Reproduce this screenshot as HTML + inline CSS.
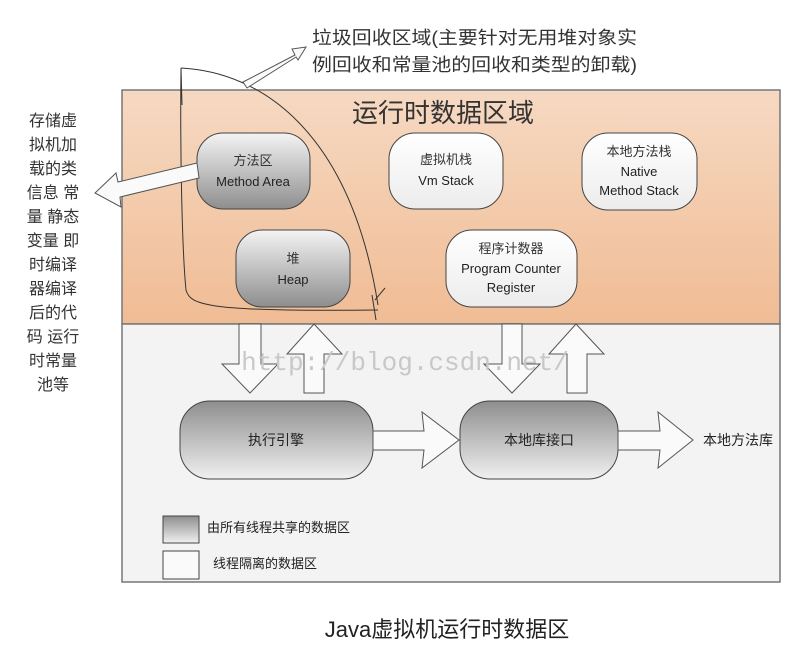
<!DOCTYPE html>
<html><head><meta charset="utf-8"><style>
html,body{margin:0;padding:0;background:#fff;}
svg text{font-family:"Liberation Sans","Noto Sans CJK SC",sans-serif;}
</style></head><body>
<svg width="804" height="665" viewBox="0 0 804 665" xmlns="http://www.w3.org/2000/svg">
<defs>
<linearGradient id="or" x1="0" y1="0" x2="0" y2="1"><stop offset="0" stop-color="#f6d9c2"/><stop offset="1" stop-color="#f0bc94"/></linearGradient>
<linearGradient id="gr" x1="0" y1="0" x2="0" y2="1"><stop offset="0" stop-color="#f4f4f4"/><stop offset="1" stop-color="#8e8e8e"/></linearGradient>
<linearGradient id="gr2" x1="0" y1="0" x2="0" y2="1"><stop offset="0" stop-color="#8e8e8e"/><stop offset="1" stop-color="#f0f0f0"/></linearGradient>
<linearGradient id="wh" x1="0" y1="0" x2="0" y2="1"><stop offset="0" stop-color="#ffffff"/><stop offset="1" stop-color="#ececec"/></linearGradient>
</defs>
<rect x="122" y="90" width="658" height="234" fill="url(#or)" stroke="#777" stroke-width="1.5"/>
<rect x="122" y="324" width="658" height="258" fill="#f3f3f3" stroke="#777" stroke-width="1.5"/>
<text x="443" y="122" font-size="26" text-anchor="middle" fill="#333">运行时数据区域</text>

<rect x="197" y="133" width="113" height="76" rx="26" fill="url(#gr)" stroke="#444"/>
<text x="253" y="165" font-size="13" text-anchor="middle" fill="#333">方法区</text>
<text x="253" y="186" font-size="13" text-anchor="middle" fill="#222">Method Area</text>
<rect x="236" y="230" width="114" height="77" rx="26" fill="url(#gr)" stroke="#444"/>
<text x="293" y="263" font-size="13" text-anchor="middle" fill="#333">堆</text>
<text x="293" y="284" font-size="13" text-anchor="middle" fill="#222">Heap</text>
<rect x="389" y="133" width="114" height="76" rx="26" fill="url(#wh)" stroke="#444"/>
<text x="446" y="164" font-size="13" text-anchor="middle" fill="#333">虚拟机栈</text>
<text x="446" y="185" font-size="13" text-anchor="middle" fill="#222">Vm Stack</text>
<rect x="582" y="133" width="115" height="77" rx="26" fill="url(#wh)" stroke="#444"/>
<text x="639" y="156" font-size="13" text-anchor="middle" fill="#333">本地方法栈</text>
<text x="639" y="176" font-size="13" text-anchor="middle" fill="#222">Native</text>
<text x="639" y="195" font-size="13" text-anchor="middle" fill="#222">Method Stack</text>
<rect x="446" y="230" width="131" height="77" rx="26" fill="url(#wh)" stroke="#444"/>
<text x="511" y="253" font-size="13" text-anchor="middle" fill="#333">程序计数器</text>
<text x="511" y="273" font-size="13" text-anchor="middle" fill="#222">Program Counter</text>
<text x="511" y="292" font-size="13" text-anchor="middle" fill="#222">Register</text>

<!-- curve -->
<path d="M181,68 L182,105 M181,68 C260,72 350,130 378,305 M181,68 C180,150 182,250 186,290 C190,305 205,312 378,310 M372,295 L376,320 M375,300 L385,288" fill="none" stroke="#333" stroke-width="1"/>
<!-- top-right arrow -->
<polygon points="243,82 295,55 292,49 306,47 298,60 296,57 247,88" fill="#fafafa" stroke="#555"/>
<!-- left arrow -->
<polygon points="197,163 118,182 116,173 95,193 121,207 120,197 199,178" fill="#fafafa" stroke="#555"/>

<!-- vertical arrows -->
<polygon points="239,324 261,324 261,364 278,364 250,393 222,364 239,364" fill="#fafafa" stroke="#555"/>
<polygon points="304,393 324,393 324,354 342,354 314,324 287,354 304,354" fill="#fafafa" stroke="#555"/>
<polygon points="502,324 522,324 522,364 540,364 512,393 484,364 502,364" fill="#fafafa" stroke="#555"/>
<polygon points="567,393 587,393 587,354 604,354 576,324 549,354 567,354" fill="#fafafa" stroke="#555"/>
<text x="405" y="370" font-size="26" font-family="Liberation Mono" text-anchor="middle" fill="#c8c8c8" style="font-family:'Liberation Mono',monospace">http://blog.csdn.net/</text>

<rect x="180" y="401" width="193" height="78" rx="30" fill="url(#gr2)" stroke="#444"/>
<text x="276" y="445" font-size="14" text-anchor="middle" fill="#222">执行引擎</text>
<rect x="460" y="401" width="158" height="78" rx="30" fill="url(#gr2)" stroke="#444"/>
<text x="539" y="445" font-size="14" text-anchor="middle" fill="#222">本地库接口</text>
<polygon points="373,431 424,431 422,412 459,440 422,468 424,450 373,450" fill="#fafafa" stroke="#555"/>
<polygon points="618,431 660,431 658,412 693,440 658,468 660,450 618,450" fill="#fafafa" stroke="#555"/>
<text x="703" y="445" font-size="14" fill="#222">本地方法库</text>

<rect x="163" y="516" width="36" height="27" fill="url(#gr2)" stroke="#444"/>
<text x="207" y="532" font-size="13" fill="#222">由所有线程共享的数据区</text>
<rect x="163" y="551" width="36" height="28" fill="#fafafa" stroke="#444"/>
<text x="213" y="568" font-size="13" fill="#222">线程隔离的数据区</text>

<text x="312" y="44" font-size="18" fill="#333" textLength="325" lengthAdjust="spacingAndGlyphs">垃圾回收区域(主要针对无用堆对象实</text>
<text x="312" y="71" font-size="18" fill="#333" textLength="325" lengthAdjust="spacingAndGlyphs">例回收和常量池的回收和类型的卸载)</text>

<g font-size="16" fill="#333" text-anchor="middle">
<text x="53" y="126">存储虚</text>
<text x="53" y="150">拟机加</text>
<text x="53" y="174">载的类</text>
<text x="53" y="198">信息 常</text>
<text x="53" y="222">量 静态</text>
<text x="53" y="246">变量 即</text>
<text x="53" y="270">时编译</text>
<text x="53" y="294">器编译</text>
<text x="53" y="318">后的代</text>
<text x="53" y="342">码 运行</text>
<text x="53" y="366">时常量</text>
<text x="53" y="390">池等</text>
</g>
<text x="447" y="637" font-size="22" text-anchor="middle" fill="#222">Java虚拟机运行时数据区</text>
</svg>
</body></html>
